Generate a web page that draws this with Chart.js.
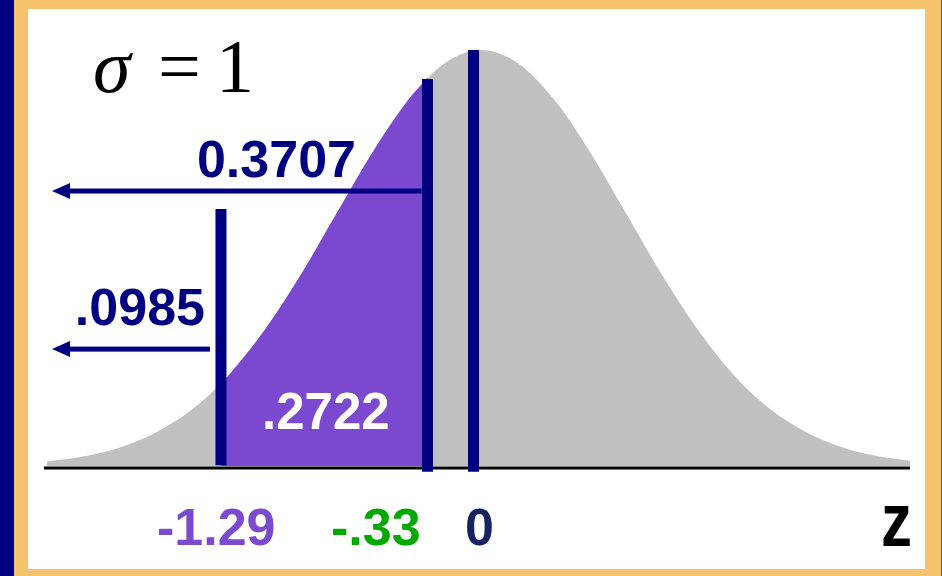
<!DOCTYPE html>
<html>
<head>
<meta charset="utf-8">
<script src="https://cdn.jsdelivr.net/npm/chart.js@4/dist/chart.umd.min.js"></script>
<style>
  html, body { margin: 0; padding: 0; }
  body { width: 942px; height: 576px; background: #F5C26E; position: relative; overflow: hidden; }
  #strip { position: absolute; left: 0; top: 0; width: 14px; height: 576px; background: #000080; }
  #edge { position: absolute; right: 0; top: 0; width: 1px; height: 576px; background: #6b4a9a; }
  #panel { position: absolute; left: 28px; top: 9px; width: 897px; height: 560px; background: #fff; }
  #chart { position: absolute; left: 0; top: 0; }
</style>
</head>
<body>
<div id="strip"></div>
<div id="edge"></div>
<div id="panel"></div>
<canvas id="chart" width="942" height="576"></canvas>
<script>
// curva normal (altura relativa ao pico)
const zGrid   = [-3, -2.75, -2.5, -2.25, -2, -1.75, -1.5, -1.25, -1, -0.75, -0.5, -0.25, 0,
                 0.25, 0.5, 0.75, 1, 1.25, 1.5, 1.75, 2, 2.25, 2.5, 2.75, 3];
const density = [0.011, 0.023, 0.044, 0.080, 0.135, 0.216, 0.325, 0.458, 0.607, 0.755, 0.882, 0.969, 1,
                 0.969, 0.882, 0.755, 0.607, 0.458, 0.325, 0.216, 0.135, 0.080, 0.044, 0.023, 0.011];

// area sombreada entre -1.29 e -.33
const shadeZ = [-1.80, -1.75, -1.5, -1.25, -1, -0.75, -0.5, -0.37];
const shadeY = [0.198, 0.216, 0.325, 0.458, 0.607, 0.755, 0.882, 0.934];

// linhas verticais (posicao no desenho, topo e base)
const markerZ      = [-1.798, -0.372, -0.054];
const markerTop    = [0.618, 0.930, 1.0];
const markerBottom = [0.002, -0.014, -0.014];

const tickLabels = ['-1.29', '-.33', '0'];
const tickColors = ['#7B4ACF', '#00A800', '#172263'];
const areaLabels = ['0.3707', '.0985', '.2722'];
const arrowLevels = [0.661, 0.281];

const NAVY = '#000080';

const pts = (xs, ys) => xs.map((x, i) => ({ x, y: ys[i] }));

const datasets = [
  { data: pts(zGrid, density), borderWidth: 0, borderColor: 'rgba(0,0,0,0)',
    backgroundColor: '#C0C0C0', fill: 'origin', pointRadius: 0, cubicInterpolationMode: 'monotone', order: 3 },
  { data: pts(shadeZ, shadeY), borderWidth: 0, borderColor: 'rgba(0,0,0,0)',
    backgroundColor: '#7B49CF', fill: 'origin', pointRadius: 0, cubicInterpolationMode: 'monotone', order: 2 }
];
markerZ.forEach((z, i) => {
  datasets.push({
    data: [{ x: z, y: markerBottom[i] }, { x: z, y: markerTop[i] }],
    borderColor: NAVY, borderWidth: 11, borderCapStyle: 'butt', pointRadius: 0,
    fill: false, clip: false, order: 1
  });
});

const eixo = {
  id: 'eixo',
  beforeDatasetsDraw(chart) {
    const { ctx, chartArea } = chart;
    const y0 = chart.scales.y.getPixelForValue(0);
    ctx.save();
    ctx.fillStyle = '#000';
    ctx.fillRect(chartArea.left, y0 + 0.5, chartArea.right - chartArea.left, 3);
    ctx.restore();
  }
};

function seta(ctx, xTip, xEnd, y) {
  ctx.fillStyle = NAVY;
  ctx.fillRect(xTip + 14, y - 2.5, xEnd - xTip - 14, 5);
  ctx.beginPath();
  ctx.moveTo(xTip, y);
  ctx.lineTo(xTip + 18, y - 8);
  ctx.lineTo(xTip + 18, y + 8);
  ctx.closePath();
  ctx.fill();
}

const textos = {
  id: 'textos',
  afterDatasetsDraw(chart) {
    const { ctx } = chart;
    const xs = chart.scales.x, ys = chart.scales.y;
    ctx.save();

    // setas
    const tip = 52;
    seta(ctx, tip, xs.getPixelForValue(markerZ[1]) - 6, ys.getPixelForValue(arrowLevels[0]));
    seta(ctx, tip, xs.getPixelForValue(markerZ[0]) - 11, ys.getPixelForValue(arrowLevels[1]));

    // sigma = 1
    ctx.fillStyle = '#000';
    ctx.textBaseline = 'alphabetic';
    ctx.textAlign = 'left';
    ctx.font = 'italic 76px "Liberation Serif", "Times New Roman", serif';
    ctx.fillText('σ', 93, 92);
    ctx.font = '76px "Liberation Serif", "Times New Roman", serif';
    ctx.fillText('=', 158, 92);
    ctx.fillText('1', 216, 92);

    // rotulos das areas
    ctx.font = 'bold 52px "Liberation Sans", Arial, sans-serif';
    ctx.fillStyle = NAVY;
    ctx.textAlign = 'right';
    ctx.fillText(areaLabels[0], 356, 177);
    ctx.fillText(areaLabels[1], 205, 325);
    ctx.fillStyle = '#fff';
    ctx.font = 'bold 51px "Liberation Sans", Arial, sans-serif';
    ctx.textAlign = 'left';
    ctx.fillText(areaLabels[2], 262, 429);

    // rotulos do eixo
    ctx.font = 'bold 52px "Liberation Sans", Arial, sans-serif';
    const tx = [157, 331, 465];
    tickLabels.forEach((t, i) => {
      ctx.fillStyle = tickColors[i];
      ctx.fillText(t, tx[i], 545);
    });

    // z
    ctx.fillStyle = '#000';
    ctx.translate(881, 546);
    ctx.scale(1, 1.22);
    ctx.font = 'bold 62px "Liberation Sans", Arial, sans-serif';
    ctx.fillText('z', 0, 0);
    ctx.restore();
  }
};

new Chart(document.getElementById('chart'), {
  type: 'line',
  data: { datasets },
  options: {
    responsive: false,
    animation: false,
    events: [],
    layout: { padding: { left: 44, right: 32, top: 50, bottom: 110 } },
    scales: {
      x: { type: 'linear', min: -3.02, max: 2.96, display: false },
      y: { min: 0, max: 1, display: false }
    },
    plugins: { legend: { display: false }, tooltip: { enabled: false } }
  },
  plugins: [eixo, textos]
});
</script>
</body>
</html>
